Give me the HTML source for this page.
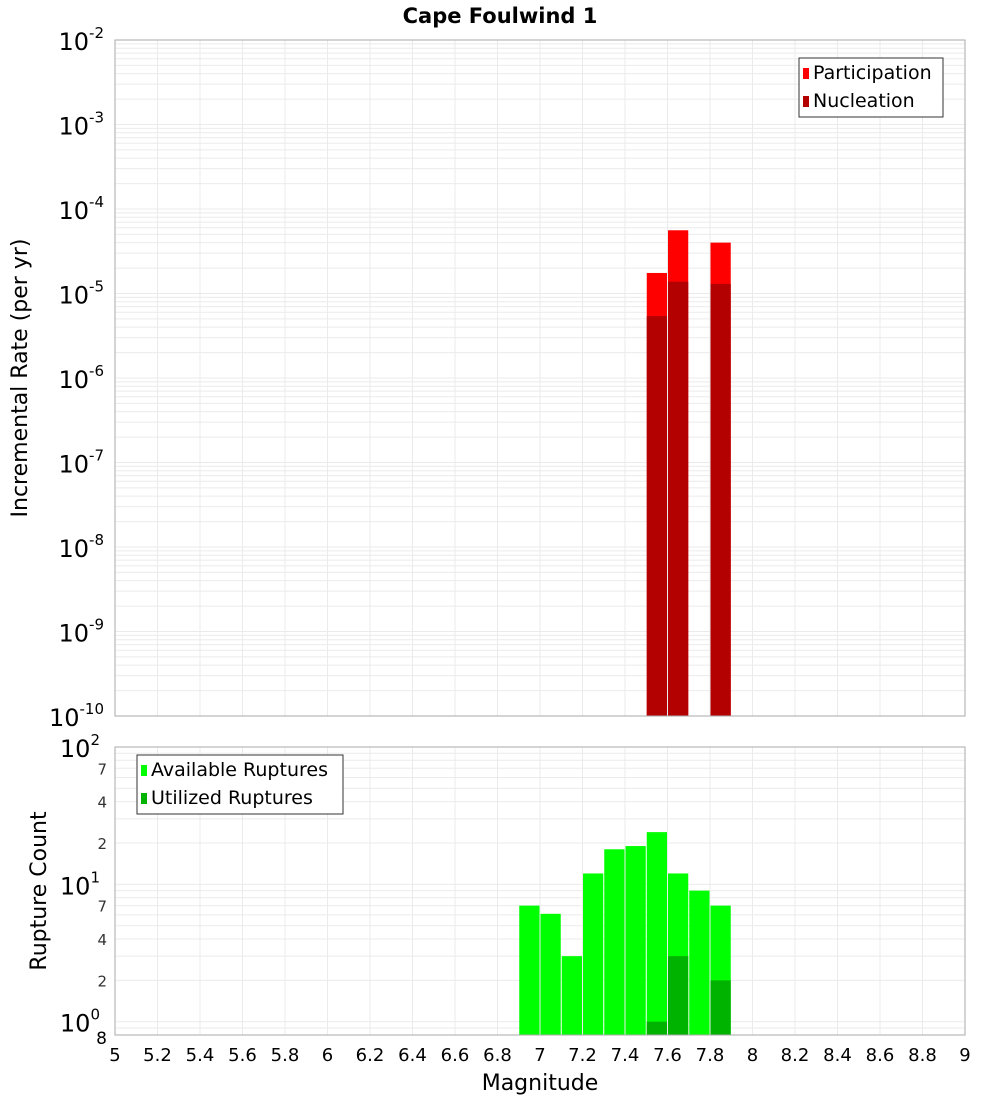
<!DOCTYPE html>
<html><head><meta charset="utf-8"><style>
body{margin:0;background:#fff;}
svg{display:block;font-family:"DejaVu Sans","Liberation Sans",sans-serif;}
</style></head><body>
<svg id="c" width="1000" height="1100" xmlns="http://www.w3.org/2000/svg"></svg>
<script>
const bins=[6.95,7.05,7.15,7.25,7.35,7.45,7.55,7.65,7.75,7.85];
const participation=[0,0,0,0,0,0,1.75e-5,5.6e-5,0,4.0e-5];
const nucleation=[0,0,0,0,0,0,5.4e-6,1.38e-5,0,1.3e-5];
const available=[7,6.1,3,12,18,19,24,12,9,7];
const utilized=[0,0,0,0,0,0,1,3,0,2];
const xTicks=[5,5.2,5.4,5.6,5.8,6,6.2,6.4,6.6,6.8,7,7.2,7.4,7.6,7.8,8,8.2,8.4,8.6,8.8,9];
const topExps=[-10,-9,-8,-7,-6,-5,-4,-3,-2];
const botMinorLabels=[2,4,7];

const svg=document.getElementById('c');
const NS='http://www.w3.org/2000/svg';
function el(tag,attrs,parent,text){const e=document.createElementNS(NS,tag);for(const k in attrs)e.setAttribute(k,attrs[k]);if(text!==undefined)e.textContent=text;(parent||svg).appendChild(e);return e;}
const X0=115,X1=965;
const x=v=>X0+(v-5)/4*(X1-X0);
const T0=40,T1=716;
const yT=v=>T1-(Math.log10(v)+10)/8*(T1-T0);
const B0=747,B1=1035;
const bLo=Math.log10(0.8),bHi=2;
const yB=v=>B1-(Math.log10(v)-bLo)/(bHi-bLo)*(B1-B0);

// Title
let t=el('text',{x:500,y:23,'text-anchor':'middle','font-size':21,'font-weight':'bold'},svg,'Cape Foulwind 1');


// grid top
const gT=el('g',{});
for(let e=-10;e<-2;e++)for(let m=1;m<10;m++){const yy=yT(m*Math.pow(10,e));el('line',{x1:X0,x2:X1,y1:yy,y2:yy,stroke:'#ebebeb','stroke-width':1},gT);}
const gB=el('g',{});
for(let e=-1;e<2;e++)for(let m=1;m<10;m++){const v=m*Math.pow(10,e);if(v<0.8)continue;const yy=yB(v);el('line',{x1:X0,x2:X1,y1:yy,y2:yy,stroke:'#ebebeb','stroke-width':1},gB);}
xTicks.forEach(v=>{el('line',{x1:x(v),x2:x(v),y1:T0,y2:T1,stroke:'#ebebeb'},gT);el('line',{x1:x(v),x2:x(v),y1:B0,y2:B1,stroke:'#ebebeb'},gB);});

// bars
const bw=(x(5.1)-x(5));
bins.forEach((b,i)=>{
  if(participation[i]>0){const r=el('rect',{x:x(b)-bw/2+0.5,y:yT(participation[i]),width:bw-1,height:T1-yT(participation[i]),fill:'#ff0000'});}
  if(nucleation[i]>0){const r=el('rect',{x:x(b)-bw/2+0.5,y:yT(nucleation[i]),width:bw-1,height:T1-yT(nucleation[i]),fill:'#b30000'});}
  if(available[i]>0){const r=el('rect',{x:x(b)-bw/2+0.5,y:yB(available[i]),width:bw-1,height:B1-yB(available[i]),fill:'#00ff00'});}
  if(utilized[i]>0){const r=el('rect',{x:x(b)-bw/2+0.5,y:yB(utilized[i]),width:bw-1,height:B1-yB(utilized[i]),fill:'#00b300'});}
});

// frames
el('rect',{x:X0,y:T0,width:X1-X0,height:T1-T0,fill:'none',stroke:'#aaa'});
el('rect',{x:X0,y:B0,width:X1-X0,height:B1-B0,fill:'none',stroke:'#aaa'});

// top y labels
topExps.forEach(e=>{const yy=yT(Math.pow(10,e));
  const g=el('text',{x:104,y:yy+10,'text-anchor':'end','font-size':24});
  
  el('tspan',{},g,'10');el('tspan',{dy:-12,'font-size':15},g,String(e));
  // shift so superscript aligns
});
// bottom y labels
[0,1,2].forEach(e=>{const yy=yB(Math.pow(10,e));
  const g=el('text',{x:100,y:yy+10,'text-anchor':'end','font-size':24});
  
  el('tspan',{},g,'10');el('tspan',{dy:-12,'font-size':15},g,String(e));
});
[1,10].forEach(d=>botMinorLabels.forEach(m=>{const v=m*d;const tt=el('text',{x:107,y:yB(v)+6,'text-anchor':'end','font-size':15,fill:'#333'},svg,String(m));}));
let e8=el('text',{x:107,y:1044,'text-anchor':'end','font-size':17},svg,'8');

// x labels
xTicks.forEach(v=>{const tt=el('text',{x:x(v),y:1061,'text-anchor':'middle','font-size':18},svg,String(v));});
let xt=el('text',{x:540,y:1090,'text-anchor':'middle','font-size':22},svg,'Magnitude');
let yt1=el('text',{x:27,y:378,'text-anchor':'middle','font-size':22,transform:'rotate(-90 27 378)'},svg,'Incremental Rate (per yr)');
let yt2=el('text',{x:46,y:891,'text-anchor':'middle','font-size':22,transform:'rotate(-90 46 891)'},svg,'Rupture Count');

// legends
function legend(x0,y0,w,items,name){
  const g=el('g',{});
  el('rect',{x:x0,y:y0,width:w,height:59,fill:'#fff',stroke:'#333'},g);
  items.forEach((it,i)=>{
    el('rect',{x:x0+4,y:y0+10+i*28,width:6,height:11,fill:it[1]},g);
    const tt=el('text',{x:x0+14,y:y0+21+i*28,'font-size':19},g,it[0]);
    
  });
}
legend(799,58,144,[['Participation','#ff0000'],['Nucleation','#b30000']],'top-legend');
legend(137,755,206,[['Available Ruptures','#00ff00'],['Utilized Ruptures','#00b300']],'bottom-legend');
</script>
</body></html>
